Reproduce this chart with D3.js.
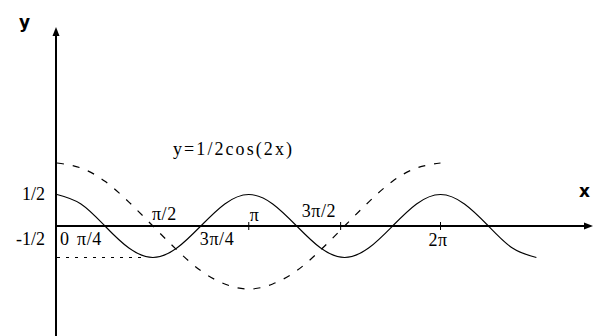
<!DOCTYPE html>
<html><head><meta charset="utf-8">
<script src="https://cdn.jsdelivr.net/npm/d3@7"></script>
<style>body{margin:0;background:#fff}svg{display:block}</style>
</head><body>
<svg id="c" width="596" height="336"></svg>
<script>
const PI = Math.PI;
const solidX = d3.range(0, 21).map(i => i * PI / 8);
const solidY = [0.5,0.35,0,-0.35,-0.5,-0.35,0,0.35,0.5,0.35,0,-0.35,-0.5,-0.35,0,0.35,0.5,0.35,0,-0.35,-0.5];
// dashed: y = cos(x), sampled every π/8 from 0 to 2π
const dashX = d3.range(0, 17).map(i => i * PI / 8);
const dashY = [1,0.92,0.71,0.38,0,-0.38,-0.71,-0.92,-1,-0.92,-0.71,-0.38,0,0.38,0.71,0.92,1];
// x tick labels
const xLabelVals = [0, PI/4, PI/2, 3*PI/4, PI, 3*PI/2, 2*PI];
const xLabelText = ["0", "π/4", "π/2", "3π/4", "π", "3π/2", "2π"];
const xTickVals = [PI, 3*PI/2, 2*PI];
const yLabelVals = [0.5, -0.5];
const yLabelText = ["1/2", "-1/2"];
const title = "y=1/2cos(2x)";

// layout (label offsets relative to their value position)
const xLabelDx = [3, -28, -1, -1, 1, -43, -12];
const xLabelDy = [19, 19, -6, 19, -5, -9, 20];

const svg = d3.select("#c");
const x = d3.scaleLinear().domain([0, 2*PI]).range([57, 440.5]);
const y = d3.scaleLinear().domain([-1, 1]).range([289, 163]);
const font = "'Liberation Serif', 'Times New Roman', serif";

// axes
const x0 = x(0), y0 = y(0);
svg.append("line").attr("x1", x0 - 1).attr("x2", x0 - 1).attr("y1", 30).attr("y2", 336)
  .attr("stroke", "#000").attr("stroke-width", 2);
svg.append("path").attr("d", `M${x0-1},27 L${x0-4.5},36 L${x0+2.5},36 Z`).attr("fill", "#000");
svg.append("line").attr("x1", x0 - 2).attr("x2", 588).attr("y1", y0).attr("y2", y0)
  .attr("stroke", "#000").attr("stroke-width", 1.8);
svg.append("path").attr("d", `M593,${y0} L584,${y0-3.5} L584,${y0+3.5} Z`).attr("fill", "#000");

// x ticks
svg.selectAll(".tk").data(xTickVals).join("line")
  .attr("x1", d => x(d) - (d === 3*PI/2 ? 4 : 0)).attr("x2", d => x(d) - (d === 3*PI/2 ? 4 : 0))
  .attr("y1", y0 - 4).attr("y2", y0 + 4)
  .attr("stroke", "#000").attr("stroke-width", 1);

// dotted line at -1/2
svg.append("line").attr("x1", x0).attr("x2", x(PI/2) - 6)
  .attr("y1", y(-0.5)).attr("y2", y(-0.5))
  .attr("stroke", "#000").attr("stroke-width", 1.2).attr("stroke-dasharray", "3,6");

// curves
const line = d3.line().x(d => x(d[0])).y(d => y(d[1])).curve(d3.curveNatural);
svg.append("path").datum(solidX.map((v, i) => [v, solidY[i]]))
  .attr("d", line).attr("fill", "none").attr("stroke", "#000").attr("stroke-width", 1.1);
svg.append("path").datum(dashX.map((v, i) => [v, dashY[i]]))
  .attr("d", line).attr("fill", "none").attr("stroke", "#000").attr("stroke-width", 1.2)
  .attr("stroke-dasharray", "7,9");

// labels
svg.selectAll(".xl").data(xLabelVals).join("text")
  .attr("x", (d, i) => x(d) + xLabelDx[i])
  .attr("y", (d, i) => y0 + xLabelDy[i])
  .attr("font-family", font).attr("font-size", 18).attr("letter-spacing", 0.6)
  .text((d, i) => xLabelText[i]);

svg.selectAll(".yl").data(yLabelVals).join("text")
  .attr("x", 45).attr("y", d => d > 0 ? y(d) + 5 : y0 + 19)
  .attr("text-anchor", "end").attr("font-family", font).attr("font-size", 18)
  .text((d, i) => yLabelText[i]);

svg.append("text").attr("x", 173).attr("y", 155).attr("font-family", font)
  .attr("font-size", 18).attr("textLength", 119).attr("lengthAdjust", "spacing").text(title);
svg.append("text").attr("x", 19).attr("y", 28).attr("font-family", "'DejaVu Sans', sans-serif")
  .attr("font-weight", "bold").attr("font-size", 17).text("y");
svg.append("text").attr("x", 579).attr("y", 197).attr("font-family", "'DejaVu Sans', sans-serif")
  .attr("font-weight", "bold").attr("font-size", 17).text("x");
</script>
</body></html>
